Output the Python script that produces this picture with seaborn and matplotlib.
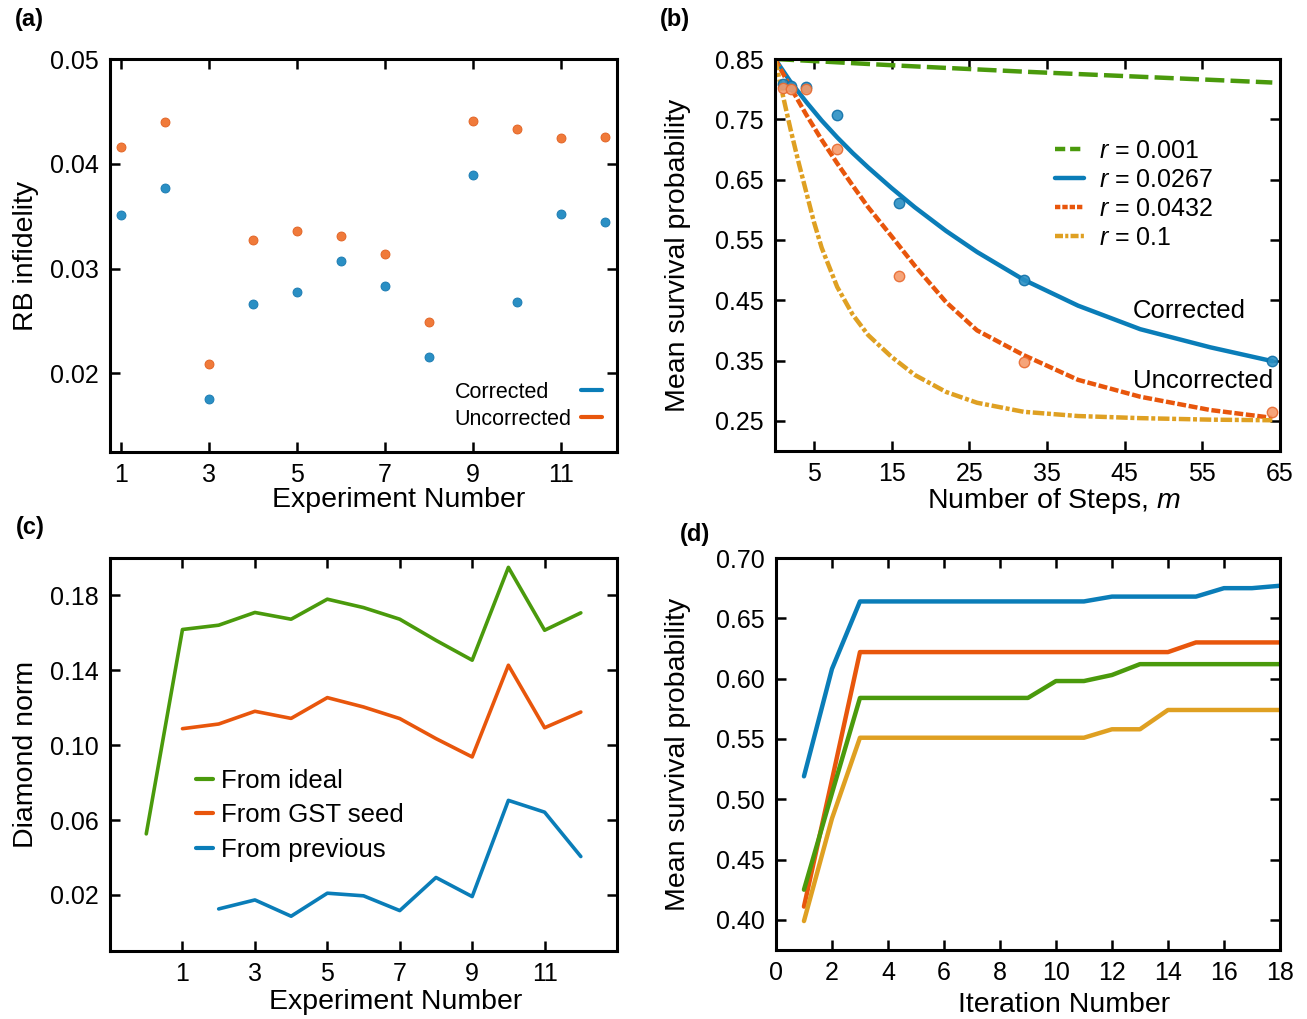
import numpy as np
import pandas as pd
import seaborn as sns
import matplotlib.pyplot as plt
from matplotlib.lines import Line2D
from matplotlib.ticker import FormatStrFormatter

# (a) RB infidelity for each experiment
exp_a = list(range(1, 13))
rb_corrected = [0.0351, 0.0377, 0.0176, 0.0266, 0.0278, 0.0307, 0.0283, 0.0216, 0.0389, 0.0268, 0.0352, 0.0344]
rb_uncorrected = [0.0416, 0.0440, 0.0209, 0.0327, 0.0336, 0.0331, 0.0314, 0.0249, 0.0441, 0.0433, 0.0425, 0.0426]

# (b) survival probability vs number of steps
steps_pts = [1, 2, 4, 8, 16, 32, 64]
surv_corrected = [0.808, 0.805, 0.803, 0.757, 0.612, 0.484, 0.349]
surv_uncorrected = [0.802, 0.800, 0.800, 0.701, 0.490, 0.347, 0.264]

steps_green = [0, 16, 32, 48, 64]
fit_r0001 = [0.850, 0.839, 0.829, 0.820, 0.811]
steps_fit = [0, 2, 4, 6, 8, 10, 12, 15, 18, 22, 26, 32, 39, 47, 56, 64]
fit_r0267 = [0.850, 0.812, 0.779, 0.748, 0.720, 0.694, 0.670, 0.636, 0.604, 0.565, 0.530, 0.484, 0.441, 0.402, 0.372, 0.349]
fit_r0432 = [0.850, 0.803, 0.758, 0.716, 0.677, 0.640, 0.604, 0.556, 0.507, 0.447, 0.400, 0.359, 0.318, 0.290, 0.268, 0.255]
steps_yellow = [0, 1, 2, 3, 4, 5, 6, 8, 10, 12, 15, 18, 22, 26, 32, 39, 47, 56, 64]
fit_r01 = [0.850, 0.790, 0.733, 0.680, 0.630, 0.580, 0.537, 0.472, 0.426, 0.392, 0.356, 0.326, 0.298, 0.280, 0.265, 0.258, 0.2545, 0.252, 0.251]
fit_labels = ["$r$ = 0.001", "$r$ = 0.0267", "$r$ = 0.0432", "$r$ = 0.1"]

# (c) diamond norm
exp_ideal = list(range(0, 13))
dn_ideal = [0.0526, 0.1618, 0.1641, 0.1709, 0.1673, 0.1780, 0.1735, 0.1673, 0.1560, 0.1454, 0.1950, 0.1614, 0.1707]
exp_seed = list(range(1, 13))
dn_seed = [0.1088, 0.1113, 0.1181, 0.1143, 0.1254, 0.1204, 0.1142, 0.1035, 0.0937, 0.1427, 0.1093, 0.1177]
exp_prev = list(range(2, 13))
dn_prev = [0.0125, 0.0173, 0.0086, 0.0209, 0.0195, 0.0116, 0.0293, 0.0191, 0.0705, 0.0642, 0.0405]

# (d) survival probability vs iteration
iters = list(range(1, 19))
it_blue = [0.519, 0.608, 0.664, 0.664, 0.664, 0.664, 0.664, 0.664, 0.664, 0.664, 0.664, 0.668, 0.668, 0.668, 0.668, 0.675, 0.675, 0.677]
it_orange = [0.411, 0.516, 0.622, 0.622, 0.622, 0.622, 0.622, 0.622, 0.622, 0.622, 0.622, 0.622, 0.622, 0.622, 0.630, 0.630, 0.630, 0.630]
it_green = [0.425, 0.505, 0.584, 0.584, 0.584, 0.584, 0.584, 0.584, 0.584, 0.598, 0.598, 0.603, 0.612, 0.612, 0.612, 0.612, 0.612, 0.612]
it_yellow = [0.399, 0.484, 0.551, 0.551, 0.551, 0.551, 0.551, 0.551, 0.551, 0.551, 0.551, 0.558, 0.558, 0.574, 0.574, 0.574, 0.574, 0.574]

BLUE = "#0a7db8"
ORANGE = "#e8560c"
GREEN = "#4a9a0c"
YELLOW = "#dfa022"

sns.set_style("ticks", {"axes.edgecolor": "black", "xtick.color": "black", "ytick.color": "black",
                        "text.color": "black", "axes.labelcolor": "black"})
plt.rcParams["font.family"] = ["Liberation Sans", "DejaVu Sans"]
plt.rcParams["mathtext.fontset"] = "custom"
plt.rcParams["mathtext.it"] = "Liberation Sans:italic"
plt.rcParams["mathtext.rm"] = "Liberation Sans"
plt.rcParams["axes.linewidth"] = 2.2

TICK = 18
LAB = 20.5

fig = plt.figure(figsize=(13.07, 10.19), dpi=100)
ax_a = fig.add_axes([0.0842, 0.5564, 0.3879, 0.3857])
ax_b = fig.add_axes([0.5930, 0.5574, 0.3864, 0.3847])
ax_c = fig.add_axes([0.0842, 0.0667, 0.3879, 0.3857])
ax_d = fig.add_axes([0.5937, 0.0677, 0.3856, 0.3847])

for ax in (ax_a, ax_b, ax_c, ax_d):
    ax.tick_params(which="major", direction="in", top=True, right=True, length=7, width=1.8,
                   labelsize=TICK, pad=8)
    ax.yaxis.set_major_formatter(FormatStrFormatter("%.2f"))

# ---- (a)
sns.scatterplot(x=exp_a, y=rb_uncorrected, color="#f07a3a", edgecolor="#e06020", linewidth=0.6, s=42, ax=ax_a, zorder=3)
sns.scatterplot(x=exp_a, y=rb_corrected, color="#2a8fc4", edgecolor="#1878b0", linewidth=0.6, s=42, ax=ax_a, zorder=3)
ax_a.set_xlim(0.75, 12.28)
ax_a.set_ylim(0.0125, 0.05)
ax_a.set_xticks([1, 3, 5, 7, 9, 11])
ax_a.set_yticks([0.02, 0.03, 0.04, 0.05])
ax_a.set_xlabel("Experiment Number", fontsize=LAB, va="top")
ax_a.set_ylabel("RB infidelity", fontsize=LAB)
ax_a.xaxis.set_label_coords(0.57, -0.088)
ax_a.yaxis.set_label_coords(-0.140, 0.5)
# legend: labels left-aligned, short line keys in their own column at the right
h_a = [Line2D([], [], color=BLUE, lw=3), Line2D([], [], color=ORANGE, lw=3)]
leg_keys = ax_a.legend(h_a, [" ", " "], loc="lower right", bbox_to_anchor=(0.970, 0.056),
                       frameon=False, markerfirst=False, fontsize=15.5, handlelength=0.95, handletextpad=0,
                       borderpad=0, borderaxespad=0, labelspacing=0.28)
ax_a.add_artist(leg_keys)
h_none = [Line2D([], [], visible=False), Line2D([], [], visible=False)]
ax_a.legend(h_none, ["Corrected", "Uncorrected"], loc="lower left", bbox_to_anchor=(0.680, 0.056),
            frameon=False, fontsize=15.5, handlelength=0, handletextpad=0,
            borderpad=0, borderaxespad=0, labelspacing=0.28)

# ---- (b)
sns.lineplot(x=steps_green, y=fit_r0001, color=GREEN, lw=3.2, linestyle=(0, (4.3, 1.4)), ax=ax_b)
sns.lineplot(x=steps_fit, y=fit_r0267, color=BLUE, lw=3.2, ax=ax_b)
sns.lineplot(x=steps_fit, y=fit_r0432, color=ORANGE, lw=3.2, linestyle=(0, (2.0, 0.6)), ax=ax_b)
sns.lineplot(x=steps_yellow, y=fit_r01, color=YELLOW, lw=3.2, linestyle=(0, (2.6, 0.6, 0.9, 0.6)), ax=ax_b)
sns.scatterplot(x=steps_pts, y=surv_corrected, color="#2a8fc4", edgecolor="#1070a8", linewidth=1, s=56,
                alpha=0.9, ax=ax_b, zorder=4)
sns.scatterplot(x=steps_pts, y=surv_uncorrected, color="#f59a6a", edgecolor="#e86a30", linewidth=1, s=56,
                alpha=0.9, ax=ax_b, zorder=4)
ax_b.set_xlim(0, 65)
ax_b.set_ylim(0.2, 0.85)
ax_b.set_xticks([5, 15, 25, 35, 45, 55, 65])
ax_b.set_yticks([0.25, 0.35, 0.45, 0.55, 0.65, 0.75, 0.85])
ax_b.set_xlabel("Number of Steps, $m$", fontsize=LAB, va="top")
ax_b.set_ylabel("Mean survival probability", fontsize=LAB)
ax_b.xaxis.set_label_coords(0.553, -0.088)
ax_b.yaxis.set_label_coords(-0.166, 0.5)
ax_b.text(46.1, 0.432, "Corrected", fontsize=18.5, va="center", ha="left")
ax_b.text(46.1, 0.316, "Uncorrected", fontsize=18.5, va="center", ha="left")
h_b = [Line2D([], [], color=GREEN, lw=3.2, linestyle=(0, (2.3, 1.1))),
       Line2D([], [], color=BLUE, lw=3.2),
       Line2D([], [], color=ORANGE, lw=3.2, linestyle=(0, (1.2, 0.45))),
       Line2D([], [], color=YELLOW, lw=3.2, linestyle=(0, (1.8, 0.5, 0.7, 0.5)))]
ax_b.legend(h_b, fit_labels, loc="upper left", bbox_to_anchor=(0.554, 0.797), frameon=False,
            fontsize=18, handlelength=1.15, handletextpad=0.6, borderpad=0, borderaxespad=0,
            labelspacing=0.2)

# ---- (c)
sns.lineplot(x=exp_ideal, y=dn_ideal, color=GREEN, lw=2.6, ax=ax_c)
sns.lineplot(x=exp_seed, y=dn_seed, color=ORANGE, lw=2.6, ax=ax_c)
sns.lineplot(x=exp_prev, y=dn_prev, color=BLUE, lw=2.6, ax=ax_c)
ax_c.set_xlim(-1, 13)
ax_c.set_ylim(-0.01, 0.2)
ax_c.set_xticks([1, 3, 5, 7, 9, 11])
ax_c.set_yticks([0.02, 0.06, 0.10, 0.14, 0.18])
ax_c.set_xlabel("Experiment Number", fontsize=LAB, va="top")
ax_c.set_ylabel("Diamond norm", fontsize=LAB)
ax_c.xaxis.set_label_coords(0.564, -0.097)
ax_c.yaxis.set_label_coords(-0.140, 0.5)
h_c = [Line2D([], [], color=GREEN, lw=3), Line2D([], [], color=ORANGE, lw=3), Line2D([], [], color=BLUE, lw=3)]
ax_c.legend(h_c, ["From ideal", "From GST seed", "From previous"], loc="upper left",
            bbox_to_anchor=(0.170, 0.463), frameon=False, fontsize=18.5, handlelength=0.65,
            handletextpad=0.32, borderpad=0, borderaxespad=0, labelspacing=0.4)

# ---- (d)
for vals, col in [(it_blue, BLUE), (it_orange, ORANGE), (it_green, GREEN), (it_yellow, YELLOW)]:
    sns.lineplot(x=iters, y=vals, color=col, lw=3.2, ax=ax_d)
ax_d.set_xlim(0, 18)
ax_d.set_ylim(0.375, 0.70)
ax_d.set_xticks(list(range(0, 19, 2)))
ax_d.set_yticks([0.40, 0.45, 0.50, 0.55, 0.60, 0.65, 0.70])
ax_d.set_xlabel("Iteration Number", fontsize=LAB, va="top")
ax_d.set_ylabel("Mean survival probability", fontsize=LAB)
ax_d.xaxis.set_label_coords(0.571, -0.106)
ax_d.yaxis.set_label_coords(-0.169, 0.5)

# panel letters
for txt, x, y in [("(a)", 0.011, 0.992), ("(b)", 0.505, 0.992), ("(c)", 0.012, 0.494), ("(d)", 0.520, 0.487)]:
    fig.text(x, y, txt, fontsize=17, fontweight="bold", ha="left", va="top")

fig.savefig("out.png", dpi=100)
